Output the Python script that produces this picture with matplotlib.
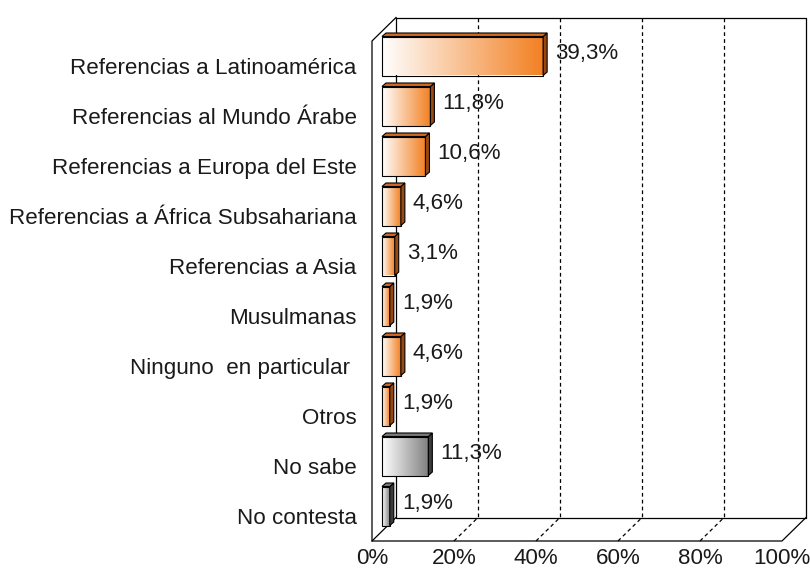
import numpy as np
import matplotlib.pyplot as plt
from matplotlib.patches import Polygon

plt.rcParams['font.family'] = ['Liberation Sans', 'DejaVu Sans']

categories = ["Referencias a Latinoamérica", "Referencias al Mundo Árabe",
              "Referencias a Europa del Este", "Referencias a África Subsahariana",
              "Referencias a Asia", "Musulmanas", "Ninguno  en particular ",
              "Otros", "No sabe", "No contesta"]
values = [39.3, 11.8, 10.6, 4.6, 3.1, 1.9, 4.6, 1.9, 11.3, 1.9]
palette = ["orange"] * 8 + ["gray"] * 2
x_ticks = [0, 20, 40, 60, 80, 100]
x_tick_labels = ["0%", "20%", "40%", "60%", "80%", "100%"]

# colours: gradient end, side face, top face
styles = {
    "orange": ((0.95, 0.50, 0.13), "#9a4812", "#d2691e"),
    "gray": ((0.50, 0.50, 0.50), "#3c3c3c", "#7a7a7a"),
}

W, H, DPI = 810, 572, 100
px_x, px_y = 4.1, 50.0          # pixels per percent / per category
x0_px, y0_px = 372, 541         # front floor corner
n = len(categories)
y_bottom, y_top, x_max = n - 0.5, -1.0, 108
fs = 16.1

fig = plt.figure(figsize=(W / DPI, H / DPI), dpi=DPI)
ax = fig.add_axes([x0_px / W, (H - y0_px) / H,
                   x_max * px_x / W, (y_bottom - y_top) * px_y / H])

# depth of the box and of the bars, in data units
DX, DY = 24 / px_x, 23.5 / px_y
bdx, bdy = 10 / px_x, 10 / px_y
tdx, tdy = 4 / px_x, 3.5 / px_y
bh = 0.78

line_kw = dict(color="black", lw=0.9, zorder=1, clip_on=False)
dash_kw = dict(color="black", lw=0.9, zorder=1, clip_on=False, dashes=(3, 2.5))

# back wall, left edge and floor
ax.plot([DX, 100 + DX, 100 + DX, DX, DX],
        [-0.5 - DY, -0.5 - DY, y_bottom - DY, y_bottom - DY, -0.5 - DY], **line_kw)
ax.plot([DX, 0, 0, 100, 100 + DX],
        [-0.5 - DY, -0.5, y_bottom, y_bottom, y_bottom - DY], **line_kw)
ax.plot([0, DX], [y_bottom, y_bottom - DY], **line_kw)
for t in x_ticks[1:-1]:
    ax.plot([t + DX, t + DX], [-0.5 - DY, y_bottom - DY], **dash_kw)
    ax.plot([t, t + DX], [y_bottom, y_bottom - DY], **dash_kw)

ys = np.arange(n) - bdy
bars = ax.barh(ys, values, left=bdx, height=bh, facecolor="none",
               edgecolor="black", lw=0.8, zorder=4)

ramp = np.linspace(0, 1, 256)
for rect, v, y, kind in zip(bars, values, ys, palette):
    end, side_c, top_c = styles[kind]
    grad = np.ones((1, 256, 3)) * (1 - ramp[None, :, None]) + \
        np.array(end)[None, None, :] * ramp[None, :, None]
    xl, xr = bdx, bdx + v
    yt, yb = y - bh / 2, y + bh / 2
    im = ax.imshow(grad, extent=[xl, xr, yb, yt], aspect="auto",
                   interpolation="bilinear", zorder=3)
    im.set_clip_path(rect)
    ax.add_patch(Polygon([(xr, yb), (xr + tdx, yb - tdy), (xr + tdx, yt - tdy), (xr, yt)],
                         closed=True, facecolor=side_c, edgecolor="black",
                         lw=0.8, zorder=4, clip_on=False))
    ax.add_patch(Polygon([(xl, yt), (xl + tdx, yt - tdy), (xr + tdx, yt - tdy), (xr, yt)],
                         closed=True, facecolor=top_c, edgecolor="black",
                         lw=0.8, zorder=4, clip_on=False))
    ax.text(xr + tdx + 8 / px_x, y + 3 / px_y, f"{v:.1f}%".replace(".", ","),
            fontsize=fs, color="#1a1a1a", va="baseline", ha="left", zorder=5)

ax.set_xlim(0, x_max)
ax.set_ylim(y_bottom, y_top)
ax.set_xticks(x_ticks, labels=x_tick_labels)
ax.set_yticks(np.arange(n), labels=categories)
ax.tick_params(axis="x", length=0, pad=5, labelsize=fs, labelcolor="#1a1a1a")
ax.tick_params(axis="y", length=0, pad=11, labelsize=fs, labelcolor="#1a1a1a")
for s in ax.spines.values():
    s.set_visible(False)
ax.patch.set_visible(False)

fig.savefig("out.png", dpi=DPI)
